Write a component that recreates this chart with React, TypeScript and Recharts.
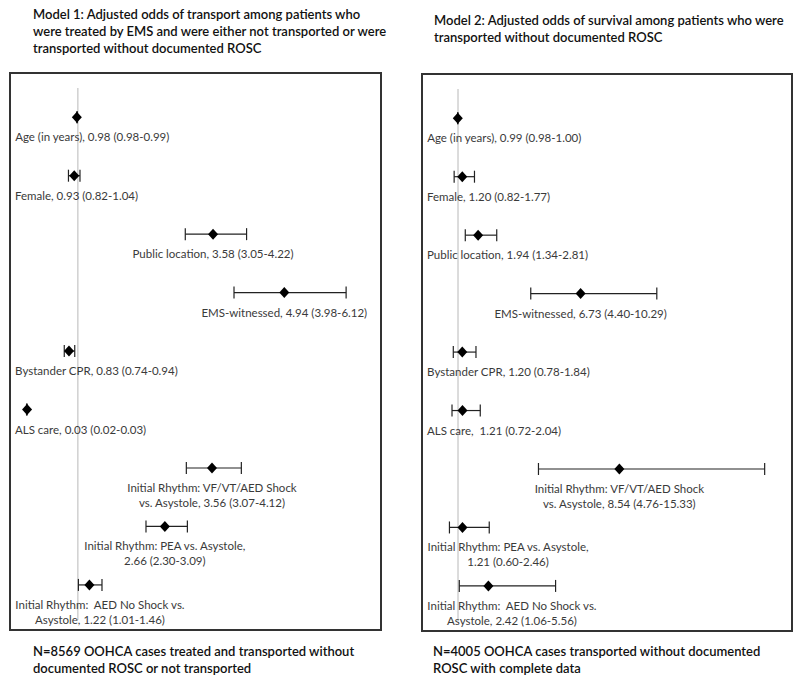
import React from 'react';
import { ScatterChart, Scatter, XAxis, YAxis, ErrorBar, ReferenceLine } from 'recharts';

// ---------- Data ----------
const model1Labels = [
  'Age (in years), {v}',
  'Female, {v}',
  'Public location, {v}',
  'EMS-witnessed, {v}',
  'Bystander CPR, {v}',
  'ALS care, {v}',
  'Initial Rhythm: VF/VT/AED Shock|vs. Asystole, {v}',
  'Initial Rhythm: PEA vs. Asystole,|{v}',
  'Initial Rhythm:  AED No Shock vs.|Asystole, {v}',
];
const model1OR = [0.98, 0.93, 3.58, 4.94, 0.83, 0.03, 3.56, 2.66, 1.22];
const model1Low = [0.98, 0.82, 3.05, 3.98, 0.74, 0.02, 3.07, 2.3, 1.01];
const model1High = [0.99, 1.04, 4.22, 6.12, 0.94, 0.03, 4.12, 3.09, 1.46];

const model2Labels = [
  'Age (in years), {v}',
  'Female, {v}',
  'Public location, {v}',
  'EMS-witnessed, {v}',
  'Bystander CPR, {v}',
  'ALS care,  {v}',
  'Initial Rhythm: VF/VT/AED Shock|vs. Asystole, {v}',
  'Initial Rhythm: PEA vs. Asystole,|{v}',
  'Initial Rhythm:  AED No Shock vs.|Asystole, {v}',
];
const model2OR = [0.99, 1.2, 1.94, 6.73, 1.2, 1.21, 8.54, 1.21, 2.42];
const model2Low = [0.98, 0.82, 1.34, 4.4, 0.78, 0.72, 4.76, 0.6, 1.06];
const model2High = [1.0, 1.77, 2.81, 10.29, 1.84, 2.04, 15.33, 2.46, 5.56];

const title1 = [
  'Model 1: Adjusted odds of transport among patients who',
  'were treated by EMS and were either not transported or were',
  'transported without documented ROSC',
];
const title2 = [
  'Model 2: Adjusted odds of survival among patients who were',
  'transported without documented ROSC',
];
const footer1 = [
  'N=8569 OOHCA cases treated and transported without',
  'documented ROSC or not transported',
];
const footer2 = [
  'N=4005 OOHCA cases transported without documented',
  'ROSC with complete data',
];

const referenceOR = 1;

// ---------- Helpers ----------
const FONT = 'Lato, "Open Sans", sans-serif';
const LABEL_SIZE = 11.5;

let ctx: CanvasRenderingContext2D | null = null;
function measure(s: string): number {
  if (!ctx && typeof document !== 'undefined') {
    ctx = document.createElement('canvas').getContext('2d');
  }
  if (!ctx) return s.length * 5.5;
  ctx.font = `${LABEL_SIZE}px Lato`;
  return ctx.measureText(s).width;
}

const fmt = (n: number) => n.toFixed(2);

function buildData(labels: string[], or: number[], lo: number[], hi: number[]) {
  return labels.map((tpl, i) => ({
    x: or[i],
    y: i,
    err: [or[i] - lo[i], hi[i] - or[i]],
    label: tpl.replace('{v}', `${fmt(or[i])} (${fmt(lo[i])}-${fmt(hi[i])})`),
  }));
}

const data1 = buildData(model1Labels, model1OR, model1Low, model1High);
const data2 = buildData(model2Labels, model2OR, model2Low, model2High);

const MIN_LEFT = 4;

function PointWithLabel(props: any) {
  const { cx, cy, payload } = props;
  if (cx == null || cy == null) return null;
  const lines: string[] = String(payload.label).split('|');
  const maxW = Math.max(...lines.map(measure));
  const center = Math.max(cx, MIN_LEFT + maxW / 2);
  return (
    <g>
      <polygon
        points={`${cx},${cy - 5.5} ${cx + 5},${cy} ${cx},${cy + 5.5} ${cx - 5},${cy}`}
        fill="#000"
      />
      <text
        textAnchor="middle"
        fontFamily={FONT}
        fontSize={LABEL_SIZE}
        fill="#3a3a3a"
        style={{ whiteSpace: 'pre' }}
      >
        {lines.map((l, i) => (
          <tspan key={i} x={center} y={cy + 24 + i * 15}>
            {l}
          </tspan>
        ))}
      </text>
    </g>
  );
}

function Panel({
  data,
  domainMax,
  width,
  height,
  marginLeft,
  marginRight,
}: {
  data: any[];
  domainMax: number;
  width: number;
  height: number;
  marginLeft: number;
  marginRight: number;
}) {
  return (
    <ScatterChart
      width={width}
      height={height}
      margin={{ top: 14, bottom: 9, left: marginLeft, right: marginRight }}
      style={{ overflow: 'visible' }}
    >
      <XAxis type="number" dataKey="x" domain={[0, domainMax]} hide />
      <YAxis type="number" dataKey="y" domain={[-0.5, 8.6]} reversed hide />
      <ReferenceLine x={referenceOR} stroke="#b8b8b8" strokeWidth={1} />
      <Scatter data={data} isAnimationActive={false} shape={PointWithLabel}>
        <ErrorBar dataKey="err" direction="x" width={6} stroke="#222" strokeWidth={1.2} />
      </Scatter>
    </ScatterChart>
  );
}

const textBlock = (lines: string[], left: number, top: number) => (
  <div
    style={{
      position: 'absolute',
      left,
      top,
      fontFamily: FONT,
      fontSize: 13,
      fontWeight: 600,
      lineHeight: '17px',
      color: '#111',
      whiteSpace: 'nowrap',
    }}
  >
    {lines.map((l, i) => (
      <div key={i}>{l}</div>
    ))}
  </div>
);

export default function App() {
  return (
    <div
      style={{
        position: 'absolute',
        left: 0,
        top: 0,
        width: 800,
        height: 682,
        background: '#fff',
        overflow: 'hidden',
      }}
    >
      {textBlock(title1, 33, 6)}
      {textBlock(title2, 434, 11.5)}
      {textBlock(footer1, 33, 642.5)}
      {textBlock(footer2, 433, 642.5)}

      <div
        style={{
          position: 'absolute',
          left: 9,
          top: 72,
          width: 373,
          height: 559,
          boxSizing: 'border-box',
          border: '2px solid #333',
        }}
      >
        <Panel data={data1} domainMax={6.7} width={369} height={555} marginLeft={14.5} marginRight={3.5} />
      </div>

      <div
        style={{
          position: 'absolute',
          left: 421,
          top: 73,
          width: 372,
          height: 559,
          boxSizing: 'border-box',
          border: '2px solid #333',
        }}
      >
        <Panel data={data2} domainMax={16.5} width={368} height={555} marginLeft={13.6} marginRight={1.3} />
      </div>
    </div>
  );
}
